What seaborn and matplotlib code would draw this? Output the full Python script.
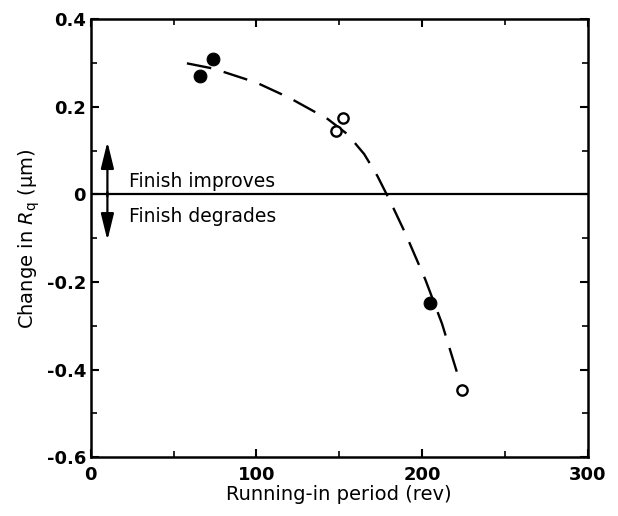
import matplotlib
matplotlib.use("Agg")
import matplotlib.pyplot as plt
import seaborn as sns
import pandas as pd
from matplotlib.ticker import MultipleLocator

sns.set_theme(style="ticks")
plt.rcParams['font.family'] = ['DejaVu Sans']
plt.rcParams['text.color'] = 'black'
plt.rcParams['axes.labelcolor'] = 'black'
plt.rcParams['xtick.color'] = 'black'
plt.rcParams['ytick.color'] = 'black'

# Data
filled_x = [66, 74, 205]
filled_y = [0.271, 0.308, -0.248]
open_x = [148, 152, 224]
open_y = [0.145, 0.175, -0.446]
curve_x = [58, 74, 100, 120, 143, 155, 165, 173, 181, 190, 202, 212, 222]
curve_y = [0.299, 0.287, 0.255, 0.22, 0.172, 0.137, 0.092, 0.042, -0.018,
           -0.09, -0.195, -0.295, -0.418]

xticks = [0, 100, 200, 300]
yticks = [-0.6, -0.4, -0.2, 0, 0.2, 0.4]
ytick_labels = ["-0.6", "-0.4", "-0.2", "0", "0.2", "0.4"]

fig = plt.figure(figsize=(6.18, 5.16), dpi=100)
ax = fig.add_axes([0.147, 0.114, 0.804, 0.849])

curve = pd.DataFrame({"x": curve_x, "y": curve_y})
sns.lineplot(data=curve, x="x", y="y", ax=ax, color="black", lw=1.7,
             sort=False)
ax.lines[-1].set_dashes([10.5, 5.5])

sns.scatterplot(x=filled_x, y=filled_y, ax=ax, color="black", s=85,
                edgecolor="black", zorder=5)
sns.scatterplot(x=open_x, y=open_y, ax=ax, facecolor="white", s=55,
                edgecolor="black", linewidth=1.7, zorder=5)

ax.axhline(0, color="black", lw=1.6)

astyle = "-|>,head_length=0.9,head_width=0.22"
ax.annotate("", xy=(10, 0.12), xytext=(10, -0.005),
            arrowprops=dict(arrowstyle=astyle, color="black", lw=1.6,
                            mutation_scale=18, shrinkA=0, shrinkB=0))
ax.annotate("", xy=(10, -0.105), xytext=(10, 0.005),
            arrowprops=dict(arrowstyle=astyle, color="black", lw=1.6,
                            mutation_scale=18, shrinkA=0, shrinkB=0))
ax.text(23, 0.03, "Finish improves", fontsize=13.5, ha="left", va="center",
        fontweight="medium")
ax.text(23, -0.05, "Finish degrades", fontsize=13.5, ha="left", va="center",
        fontweight="medium")

ax.set_xlim(0, 300)
ax.set_ylim(-0.6, 0.4)
ax.set_xticks(xticks)
ax.set_xticklabels([str(t) for t in xticks], fontsize=13, fontweight="bold")
ax.set_yticks(yticks)
ax.set_yticklabels(ytick_labels, fontsize=13, fontweight="bold")
ax.xaxis.set_minor_locator(MultipleLocator(50))
ax.yaxis.set_minor_locator(MultipleLocator(0.1))
ax.tick_params(which="both", direction="in", top=True, right=True,
               color="black")
ax.tick_params(which="major", length=6, width=1.5)
ax.tick_params(which="minor", length=4, width=1.2)
ax.tick_params(axis="x", pad=6)
for s in ax.spines.values():
    s.set_linewidth(1.8)
    s.set_color("black")

ax.set_xlabel("Running-in period (rev)", fontsize=14, labelpad=1)
ax.set_ylabel(r"Change in $R_{\mathrm{q}}$ ($\mathrm{\mu m}$)", fontsize=14,
              labelpad=3)

fig.savefig("out.png", dpi=100)
